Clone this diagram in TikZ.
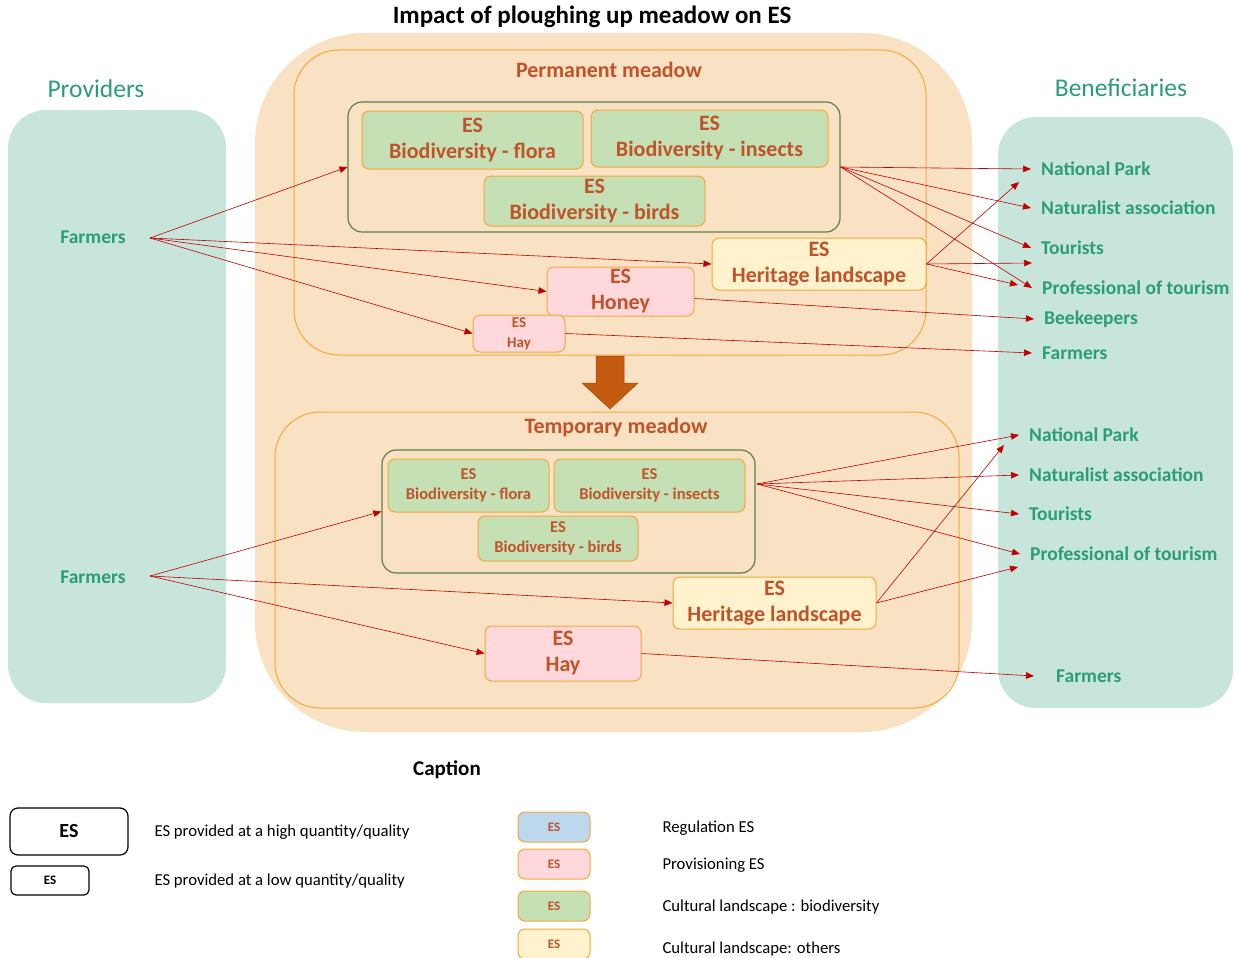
\documentclass[tikz,border=0pt]{standalone}
\usepackage{fontspec}
\setmainfont{Carlito}
\usetikzlibrary{arrows.meta}
\definecolor{bgor}{HTML}{F9E2C3}
\definecolor{tealbox}{HTML}{C8E5DC}
\definecolor{tealtxt}{HTML}{2A9D78}
\definecolor{esborder}{HTML}{F4A83A}
\definecolor{esbrown}{HTML}{C0532A}
\definecolor{esgreen}{HTML}{C5E0B4}
\definecolor{grpgreen}{HTML}{5F7F47}
\definecolor{esyellow}{HTML}{FFF2CC}
\definecolor{espink}{HTML}{FFD8DB}
\definecolor{esblue}{HTML}{BDD7EE}
\definecolor{arrred}{HTML}{C00000}
\definecolor{bigarrow}{HTML}{C55A11}
\begin{document}
\begin{tikzpicture}[x=1pt,y=-1pt,
  area/.style={fill=tealbox, draw=none, rounded corners=38pt},
  meadow/.style={draw=esborder, line width=1pt, rounded corners=45pt},
  grp/.style={draw=grpgreen, line width=1.2pt, rounded corners=14pt},
  es/.style={draw=esborder, line width=1pt, rounded corners=7pt, text=esbrown, align=center, inner sep=0pt},
  big/.style={font=\bfseries\fontsize{22}{26}\selectfont},
  small/.style={font=\bfseries\fontsize{16.5}{20}\selectfont},
  tiny/.style={font=\bfseries\fontsize{15}{20}\selectfont},
  ben/.style={anchor=west, inner xsep=10pt, inner ysep=2pt, text=tealtxt, font=\bfseries\fontsize{19.5}{22}\selectfont},
  prov/.style={text=tealtxt, font=\bfseries\fontsize{19.5}{22}\selectfont},
  conn/.style={draw=arrred, line width=0.6pt, -{Triangle[length=8pt,width=6.5pt]}},
  legtxt/.style={anchor=west, font=\fontsize{16.7}{20}\selectfont},
  legbox/.style={es, fill=#1, minimum width=72pt, minimum height=30pt, font=\bfseries\fontsize{13}{15}\selectfont}
]
\useasboundingbox (0,0) rectangle (1235,958);

% backgrounds
\node[fill=bgor, rounded corners=110pt, minimum width=717pt, minimum height=699pt, inner sep=0pt] (bg) at (613.5,382.5) {};
\node[area, minimum width=218pt, minimum height=593pt, inner sep=0pt] (provbox) at (117,406.5) {};
\node[area, minimum width=235pt, minimum height=591pt, inner sep=0pt] (benbox) at (1115.5,412.5) {};

% titles
\node[font=\bfseries\fontsize{25}{28}\selectfont] (title) at (592,17) {Impact of ploughing up meadow on ES};
\node[text=tealtxt, font=\fontsize{25.5}{28}\selectfont] (provtitle) at (96,89) {Providers};
\node[text=tealtxt, font=\fontsize{25.5}{28}\selectfont] (bentitle) at (1121,88) {Beneficiaries};

% permanent meadow
\node[meadow, minimum width=632pt, minimum height=305pt, inner sep=0pt] (perm) at (610,202.5) {};
\node[text=esbrown, font=\bfseries\fontsize{22}{26}\selectfont] (permtitle) at (609,70) {Permanent meadow};
\node[grp, minimum width=492pt, minimum height=130pt, inner sep=0pt] (grpA) at (594,167) {};
\node[es, big, fill=esgreen, minimum width=221pt, minimum height=58pt] (floraA) at (472.5,140) {ES\\Biodiversity - flora};
\node[es, big, fill=esgreen, minimum width=237pt, minimum height=57pt] (insA) at (709.5,138.5) {ES\\Biodiversity - insects};
\node[es, big, fill=esgreen, minimum width=221pt, minimum height=50pt] (birdA) at (594.5,201) {ES\\Biodiversity - birds};
\node[es, big, fill=esyellow, minimum width=214pt, minimum height=52pt] (herA) at (819,264) {ES\\Heritage landscape};
\node[es, big, fill=espink, minimum width=147pt, minimum height=49pt] (honA) at (620.5,291.5) {ES\\Honey};
\node[es, tiny, fill=espink, minimum width=92pt, minimum height=37pt] (hayA) at (519,333.5) {ES\\Hay};

% big arrow
\draw[fill=bigarrow, draw=bigarrow!80!black, line width=0.5pt]
  (596,356) -- (624,356) -- (624,383) -- (638,383) -- (610,409) -- (582,383) -- (596,383) -- cycle;

% temporary meadow
\node[meadow, minimum width=684pt, minimum height=296pt, inner sep=0pt] (temp) at (617,560) {};
\node[text=esbrown, font=\bfseries\fontsize{22}{26}\selectfont] (temptitle) at (616,428) {Temporary meadow};
\node[grp, minimum width=373pt, minimum height=123pt, inner sep=0pt] (grpB) at (568.5,511.5) {};
\node[es, small, fill=esgreen, minimum width=161pt, minimum height=53pt] (floraB) at (468.5,485.5) {ES\\Biodiversity - flora};
\node[es, small, fill=esgreen, minimum width=191pt, minimum height=53pt] (insB) at (649.5,485.5) {ES\\Biodiversity - insects};
\node[es, small, fill=esgreen, minimum width=160pt, minimum height=45pt] (birdB) at (558,538.5) {ES\\Biodiversity - birds};
\node[es, big, fill=esyellow, minimum width=203pt, minimum height=52pt] (herB) at (774.5,603) {ES\\Heritage landscape};
\node[es, big, fill=espink, minimum width=156pt, minimum height=55pt] (hayB) at (563,653.5) {ES\\Hay};

% providers
\node[prov] (farmA) at (93,237) {Farmers};
\node[prov] (farmB) at (93,577) {Farmers};
\coordinate (fA) at (150,238);
\coordinate (fB) at (150,576);

% beneficiaries top
\node[ben] (npA) at (1031,169) {National Park};
\node[ben] (naA) at (1031,208) {Naturalist association};
\node[ben] (toA) at (1031,248) {Tourists};
\node[ben] (prA) at (1032,288) {Professional of tourism};
\node[ben] (beA) at (1034,319) {Beekeepers};
\node[ben] (faA) at (1032,353) {Farmers};

% beneficiaries bottom
\node[ben] (npB) at (1019,435) {National Park};
\node[ben] (naB) at (1019,475) {Naturalist association};
\node[ben] (toB) at (1019,514) {Tourists};
\node[ben] (prB) at (1020,554) {Professional of tourism};
\node[ben, inner xsep=22pt] (faB) at (1034,676) {Farmers};

% connectors top
\draw[conn] (fA) -- (grpA.west);
\draw[conn] (fA) -- (herA.west);
\draw[conn] (fA) -- (honA.west);
\draw[conn] (fA) -- (hayA.west);
\draw[conn] (grpA.east) -- (npA.west);
\draw[conn] (grpA.east) -- (naA.west);
\draw[conn] (grpA.east) -- (toA.west);
\draw[conn] (grpA.east) -- (prA.west);
\draw[conn] (herA.east) -- ([shift={(-12,13)}]npA.west);
\draw[conn] (herA.east) -- ([shift={(1,15)}]toA.west);
\draw[conn] (herA.east) -- ([shift={(-14,-3)}]prA.west);
\draw[conn] ([shift={(0,7)}]honA.east) -- (beA.west);
\draw[conn] (hayA.east) -- (faA.west);

% connectors bottom
\draw[conn] (fB) -- (grpB.west);
\draw[conn] (fB) -- (herB.west);
\draw[conn] (fB) -- (hayB.west);
\coordinate (gB) at (757,484);
\draw[conn] (gB) -- (npB.west);
\draw[conn] (gB) -- (naB.west);
\draw[conn] (gB) -- (toB.west);
\draw[conn] (gB) -- (prB.west);
\draw[conn] (herB.east) -- ([shift={(-15,10)}]npB.west);
\draw[conn] (herB.east) -- ([shift={(-2,13)}]prB.west);
\draw[conn] (hayB.east) -- (faB.west);

% caption
\node[font=\bfseries\fontsize{21}{24}\selectfont] (cap) at (447,770) {Caption};
\node[draw=black, line width=1.2pt, rounded corners=8pt, minimum width=118pt, minimum height=47pt, font=\bfseries\fontsize{20}{24}\selectfont] (legHi) at (69,831.5) {ES};
\node[draw=black, line width=1.2pt, rounded corners=5pt, minimum width=78pt, minimum height=29pt, font=\bfseries\fontsize{13}{15}\selectfont] (legLo) at (50,880.5) {ES};
\node[legtxt] (legHiT) at (151,832) {ES provided at a high quantity/quality};
\node[legtxt] (legLoT) at (151,881) {ES provided at a low quantity/quality};
\node[legbox=esblue] (legBlue) at (554,827) {ES};
\node[legbox=espink] (legPink) at (554,864) {ES};
\node[legbox=esgreen] (legGreen) at (554,906) {ES};
\node[legbox=esyellow] (legYellow) at (554,944) {ES};
\node[legtxt] (legBlueT) at (659,828) {Regulation ES};
\node[legtxt] (legPinkT) at (659,865) {Provisioning ES};
\node[legtxt] (legGreenT) at (659,907) {Cultural landscape : biodiversity};
\node[legtxt] (legYellowT) at (659,949) {Cultural landscape: others};
\end{tikzpicture}
\end{document}
